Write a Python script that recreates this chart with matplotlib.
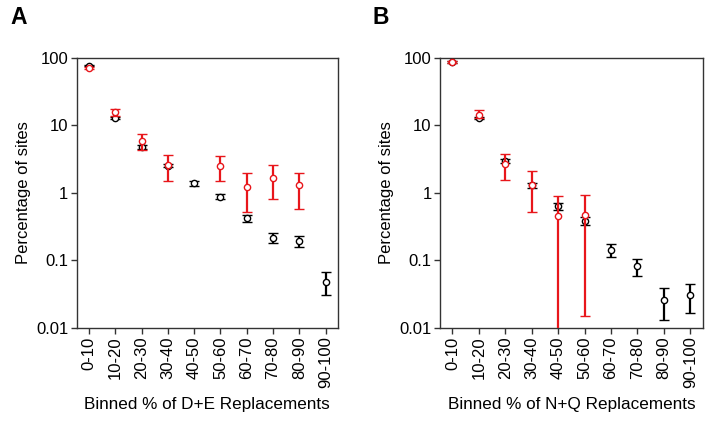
import numpy as np
import matplotlib
matplotlib.use("Agg")
import matplotlib.pyplot as plt

plt.rcParams['font.family'] = ['Liberation Sans', 'DejaVu Sans']

bins = ["0-10", "10-20", "20-30", "30-40", "40-50", "50-60", "60-70", "70-80", "80-90", "90-100"]
nan = np.nan

# Panel A (D+E)
a_black = [77, 13, 4.85, 2.55, 1.39, 0.88, 0.42, 0.218, 0.195, 0.048]
a_black_lo = [75, 12.6, 4.43, 2.4, 1.29, 0.805, 0.376, 0.18, 0.158, 0.0305]
a_black_hi = [79, 13.4, 5.08, 2.7, 1.49, 0.955, 0.467, 0.255, 0.228, 0.067]
a_red = [71, 15.7, 5.96, 2.57, nan, 2.54, 1.24, 1.69, 1.30, nan]
a_red_lo = [68, 14.0, 4.39, 1.51, nan, 1.51, 0.52, 0.805, 0.586, nan]
a_red_hi = [74, 17.7, 7.57, 3.66, nan, 3.57, 1.95, 2.57, 2.0, nan]

# Panel B (N+Q)
b_black = [87, 12.9, 2.98, 1.31, 0.634, 0.38, 0.144, 0.083, 0.0263, 0.0308]
b_black_lo = [85, 12.3, 2.75, 1.2, 0.56, 0.336, 0.113, 0.058, 0.0133, 0.0167]
b_black_hi = [89, 13.5, 3.2, 1.42, 0.70, 0.436, 0.175, 0.106, 0.039, 0.0454]
b_red = [87, 14.5, 2.66, 1.31, 0.45, 0.467, nan, nan, nan, nan]
b_red_lo = [85, 13.0, 1.58, 0.528, 0.0001, 0.0149, nan, nan, nan, nan]
b_red_hi = [89, 16.8, 3.78, 2.12, 0.91, 0.944, nan, nan, nan, nan]

yticks = [0.01, 0.1, 1, 10, 100]
ytick_labels = ["0.01", "0.1", "1", "10", "100"]

RED = '#e8161b'
fig = plt.figure(figsize=(7.14, 4.26), dpi=100)

panels = [
    ("A", [0.1074, 0.230, 0.366, 0.634], "Binned % of D+E Replacements",
     a_black, a_black_lo, a_black_hi, a_red, a_red_lo, a_red_hi, 10 / 714),
    ("B", [0.6162, 0.230, 0.368, 0.634], "Binned % of N+Q Replacements",
     b_black, b_black_lo, b_black_hi, b_red, b_red_lo, b_red_hi, 372 / 714),
]

for (lab, rect, xlabel, bk, bklo, bkhi, rd, rdlo, rdhi, lx) in panels:
    ax = fig.add_axes(rect)
    x = np.arange(len(bins))
    bk = np.array(bk, float); bklo = np.array(bklo, float); bkhi = np.array(bkhi, float)
    rd = np.array(rd, float); rdlo = np.array(rdlo, float); rdhi = np.array(rdhi, float)
    ax.errorbar(x, bk, yerr=[bk - bklo, bkhi - bk], fmt='o', color='black',
                mfc='white', mec='black', ms=4.5, mew=1.0, elinewidth=1.6,
                capsize=3.5, capthick=1.6, zorder=3)
    m = ~np.isnan(rd)
    ax.errorbar(x[m], rd[m], yerr=[rd[m] - rdlo[m], rdhi[m] - rd[m]], fmt='o', color=RED,
                mfc='white', mec=RED, ms=4.5, mew=1.0, elinewidth=1.6,
                capsize=3.5, capthick=1.6, zorder=4)
    ax.set_yscale('log')
    ax.set_ylim(0.01, 100)
    ax.set_xlim(-0.47, 9.47)
    ax.set_yticks(yticks)
    ax.set_yticklabels(ytick_labels, fontsize=12)
    ax.yaxis.set_minor_locator(matplotlib.ticker.NullLocator())
    ax.set_xticks(x)
    ax.set_xticklabels(bins, rotation=90, fontsize=12)
    ax.tick_params(axis='both', direction='out', length=4, width=1.0, color='#333333', pad=2)
    for s in ax.spines.values():
        s.set_color('#333333')
        s.set_linewidth(1.0)
    ax.set_ylabel("Percentage of sites", fontsize=12, labelpad=4)
    ax.set_xlabel(xlabel, fontsize=12.3, labelpad=6)
    fig.text(lx, 1 - 18 / 426, lab, fontsize=16.5, fontweight='bold', va='center', ha='left')

fig.savefig("out.png", dpi=100)
